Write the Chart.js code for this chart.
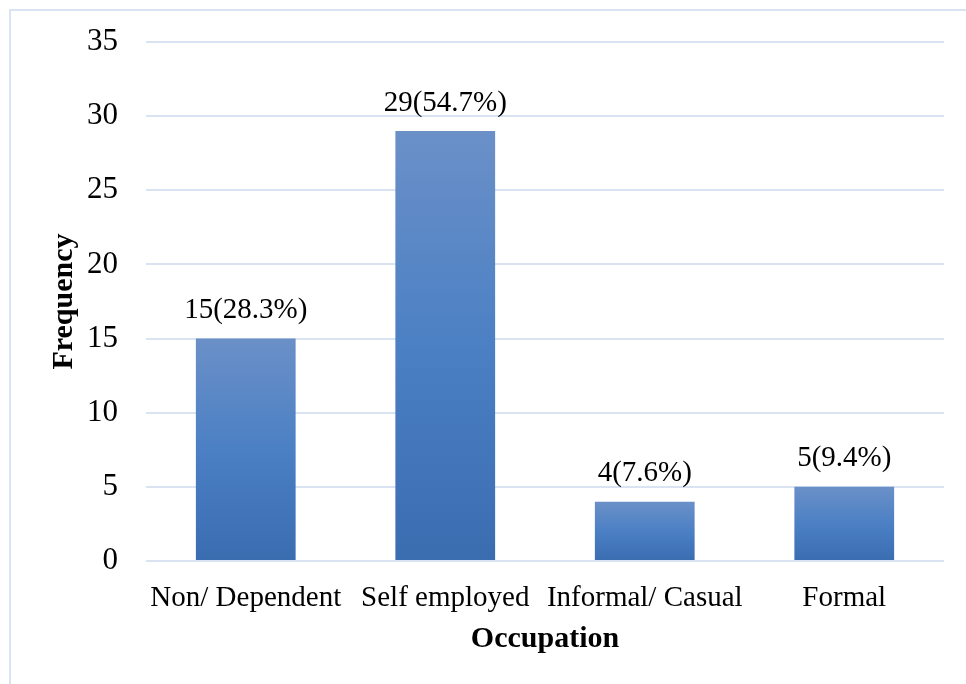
<!DOCTYPE html>
<html>
<head>
<meta charset="utf-8">
<script src="https://cdn.jsdelivr.net/npm/chart.js@4"></script>
<style>
  body { margin: 0; background: #fff; }
  #wrap { width: 966px; height: 684px; position: relative; }
</style>
</head>
<body>
<div id="wrap"><canvas id="occChart" width="966" height="684"></canvas></div>
<script>
// data
var categories = ['Non/ Dependent', 'Self employed', 'Informal/ Casual', 'Formal'];
var frequency = [15, 29, 4, 5];
var percentLabels = ['28.3%', '54.7%', '7.6%', '9.4%'];
var yTicks = [0, 5, 10, 15, 20, 25, 30, 35];

var serif = '"Liberation Serif", "Times New Roman", serif';

// each bar gets its own light-to-dark gradient
function barGradient(context) {
    var chart = context.chart;
    var y = chart.scales.y;
    if (!y) return '#4a7ebf';
    var v = context.raw;
    var top = y.getPixelForValue(v);
    var bottom = y.getPixelForValue(0);
    if (!isFinite(top) || !isFinite(bottom) || top === bottom) return '#4a7ebf';
    var g = chart.ctx.createLinearGradient(0, top, 0, bottom);
    g.addColorStop(0, '#6b90c8');
    g.addColorStop(0.5, '#4b80c4');
    g.addColorStop(1, '#3a6cb0');
    return g;
}

// thin frame around the chart like the source image
var framePlugin = {
    id: 'frame',
    beforeDraw: function (chart) {
        var ctx = chart.ctx;
        ctx.save();
        ctx.strokeStyle = '#dae3f1';
        ctx.lineWidth = 2;
        ctx.beginPath();
        ctx.moveTo(10, 684);
        ctx.lineTo(10, 10);
        ctx.lineTo(966, 10);
        ctx.stroke();
        ctx.restore();
    }
};

// "15(28.3%)" style labels above the bars
var valueLabels = {
    id: 'valueLabels',
    afterDatasetsDraw: function (chart) {
        var ctx = chart.ctx;
        var meta = chart.getDatasetMeta(0);
        ctx.save();
        ctx.font = '29px ' + serif;
        ctx.fillStyle = '#000';
        ctx.textAlign = 'center';
        ctx.textBaseline = 'middle';
        meta.data.forEach(function (bar, i) {
            ctx.fillText(frequency[i] + '(' + percentLabels[i] + ')', bar.x, bar.y - 28);
        });
        ctx.restore();
    }
};

var ctx = document.getElementById('occChart').getContext('2d');
var occChart = new Chart(ctx, {
    type: 'bar',
    data: {
        labels: categories,
        datasets: [{
            label: 'Frequency',
            data: frequency,
            backgroundColor: barGradient,
            borderWidth: 0,
            categoryPercentage: 1,
            barPercentage: 0.5
        }]
    },
    options: {
        responsive: false,
        animation: false,
        layout: { padding: { left: 11, top: 42, right: 22, bottom: 0 } },
        plugins: {
            legend: { display: false },
            tooltip: { enabled: false }
        },
        scales: {
            x: {
                grid: { display: false, drawTicks: false },
                border: { display: false },
                ticks: {
                    color: '#000',
                    font: { family: serif, size: 29 },
                    padding: 20,
                    maxRotation: 0,
                    autoSkip: false
                },
                title: {
                    display: true,
                    text: 'Occupation',
                    color: '#000',
                    font: { family: serif, size: 30, weight: 'bold' },
                    padding: { top: 0, bottom: 27 }
                },
                afterFit: function (scale) {
                    scale.height = 123;
                    scale.paddingLeft = 0;
                    scale.paddingRight = 0;
                }
            },
            y: {
                min: 0,
                max: 35,
                afterBuildTicks: function (scale) {
                    scale.ticks = yTicks.map(function (v) { return { value: v }; });
                },
                grid: { color: '#d9e3f1', lineWidth: 2, drawTicks: false },
                border: { display: false },
                ticks: {
                    color: '#000',
                    font: { family: serif, size: 31 },
                    padding: 28
                },
                title: {
                    display: true,
                    text: 'Frequency',
                    color: '#000',
                    font: { family: serif, size: 30, weight: 'bold' },
                    padding: { top: 35, bottom: 0 }
                },
                afterFit: function (scale) {
                    scale.width = 135;
                    scale.paddingTop = 0;
                    scale.paddingBottom = 0;
                }
            }
        }
    },
    plugins: [framePlugin, valueLabels]
});
</script>
</body>
</html>
